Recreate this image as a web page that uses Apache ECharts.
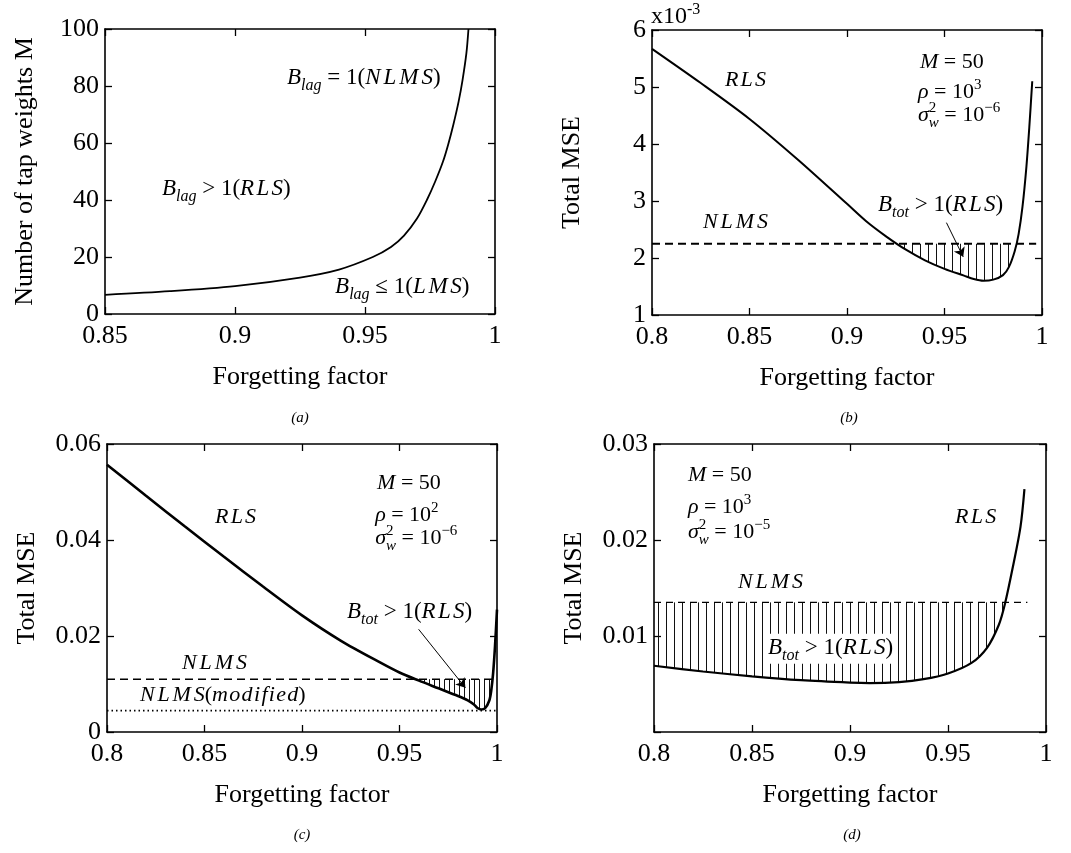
<!DOCTYPE html>
<html><head><meta charset="utf-8">
<script src="https://cdn.jsdelivr.net/npm/echarts@6/dist/echarts.min.js"></script>
<style>html,body{margin:0;padding:0;background:#fff}#c{width:1071px;height:853px}</style>
</head><body><div id="c"></div>
<script>
// ================= DATA =================
// (a) number of tap weights where B_lag = 1
const lambdaA = [0.85, 0.875, 0.90, 0.925, 0.94, 0.953, 0.96, 0.965, 0.97, 0.9738, 0.977, 0.98, 0.982, 0.984, 0.986, 0.9875, 0.989, 0.9898];
const tapsA   = [6.7, 8.0, 9.8, 12.8, 15.6, 20.0, 23.5, 27.5, 33.5, 40.0, 46.5, 53.5, 59.5, 66.5, 74.5, 82.0, 91.5, 100];
const xRangeA = [0.85, 1, 0.05];
const yRangeA = [0, 100, 20];

// (b) total MSE, in units of 1e-3
const lambdaB = [0.80, 0.825, 0.85, 0.875, 0.90, 0.91, 0.92, 0.93, 0.94, 0.95, 0.96, 0.965, 0.97, 0.975, 0.98, 0.983, 0.986, 0.988, 0.99, 0.992, 0.9935, 0.995];
const mseB    = [5.67, 5.07, 4.44, 3.72, 2.95, 2.64, 2.38, 2.15, 1.96, 1.81, 1.69, 1.63, 1.60, 1.62, 1.70, 1.84, 2.12, 2.42, 2.90, 3.60, 4.30, 5.10];
const nlmsB = 2.25;
const nlmsSpanB = [0.8, 0.997];
const arrowB = [[0.951, 2.62], [0.9596, 2.02]];
const xRangeB = [0.8, 1, 0.05];
const yRangeB = [1, 6, 1];

// (c)
const lambdaC = [0.80, 0.82, 0.84, 0.86, 0.88, 0.90, 0.92, 0.94, 0.95, 0.96, 0.97, 0.98, 0.985, 0.988, 0.99, 0.992, 0.994, 0.996, 0.997, 0.998, 0.999, 1.0];
const mseC    = [0.0557, 0.0492, 0.0428, 0.0365, 0.0303, 0.0243, 0.0190, 0.0145, 0.0124, 0.0107, 0.0091, 0.0075, 0.0066, 0.0058, 0.0050, 0.0047, 0.0050, 0.0065, 0.0085, 0.0122, 0.0180, 0.0255];
const nlmsC = 0.011;
const nlmsModC = 0.00446;
const nlmsSpanC = [0.8, 1.0];
const arrowC = [[0.9598, 0.0214], [0.9838, 0.0092]];
const xRangeC = [0.8, 1, 0.05];
const yRangeC = [0, 0.06, 0.02];

// (d)
const lambdaD = [0.80, 0.825, 0.85, 0.875, 0.90, 0.91, 0.925, 0.9375, 0.95, 0.962, 0.97, 0.976, 0.979, 0.983, 0.987, 0.989];
const mseD    = [0.0069, 0.0063, 0.0058, 0.0054, 0.00515, 0.0051, 0.0052, 0.0055, 0.0061, 0.0072, 0.0088, 0.0112, 0.0133, 0.0171, 0.0214, 0.0253];
const nlmsD = 0.0135;
const nlmsSpanD = [0.8, 0.9905];
const xRangeD = [0.8, 1, 0.05];
const yRangeD = [0, 0.03, 0.01];

// ================= CHART =================
const SERIF = '"Liberation Serif", "DejaVu Serif", serif';
const chart = echarts.init(document.getElementById('c'), null, {renderer: 'canvas'});

const grids = [
  {left: 105, top: 29, width: 390, height: 285},
  {left: 652, top: 30, width: 390, height: 285},
  {left: 107, top: 444, width: 390, height: 288},
  {left: 654, top: 444, width: 392, height: 288}
];
const fmt = v => String(+(+v).toFixed(4));
const xAxes = [], yAxes = [];
function addAxes(i, xr, yr, xName, yName, yFmt) {
  const common = {
    type: 'value', gridIndex: i, splitLine: {show: false},
    axisLine: {show: true, onZero: false, lineStyle: {color: '#000', width: 1.6}},
    axisTick: {show: true, inside: true, length: 7, lineStyle: {color: '#000', width: 1.3}}
  };
  const lab = {color: '#000', fontFamily: SERIF, fontSize: 26};
  const nameStyle = {color: '#000', fontFamily: SERIF, fontSize: 26};
  xAxes.push(Object.assign({}, common, {min: xr[0], max: xr[1], interval: xr[2], position: 'bottom',
    axisLabel: Object.assign({show: true, margin: 9, formatter: fmt}, lab),
    name: xName, nameLocation: 'middle', nameGap: 50, nameTextStyle: nameStyle}));
  xAxes.push(Object.assign({}, common, {min: xr[0], max: xr[1], interval: xr[2], position: 'top',
    axisLabel: {show: false}}));
  yAxes.push(Object.assign({}, common, {min: yr[0], max: yr[1], interval: yr[2], position: 'left',
    axisLabel: Object.assign({show: true, margin: 6, formatter: yFmt || fmt}, lab),
    name: yName, nameLocation: 'middle', nameGap: 67, nameRotate: 90, nameTextStyle: nameStyle}));
  yAxes.push(Object.assign({}, common, {min: yr[0], max: yr[1], interval: yr[2], position: 'right',
    axisLabel: {show: false}}));
}
addAxes(0, xRangeA, yRangeA, 'Forgetting factor', 'Number of tap weights M');
addAxes(1, xRangeB, yRangeB, 'Forgetting factor', 'Total MSE');
addAxes(2, xRangeC, yRangeC, 'Forgetting factor', 'Total MSE');
addAxes(3, xRangeD, yRangeD, 'Forgetting factor', 'Total MSE', v => (+v === 0 ? '' : fmt(v)));

const zip = (xs, ys) => xs.map((x, k) => [x, ys[k]]);
function curve(i, xs, ys, w) {
  return {type: 'line', xAxisIndex: 2 * i, yAxisIndex: 2 * i, data: zip(xs, ys), symbol: 'none', showSymbol: false,
    smooth: 0.3, lineStyle: {color: '#000', width: w}, z: 5, silent: true};
}
function level(i, span, val, type, w) {
  return {type: 'line', xAxisIndex: 2 * i, yAxisIndex: 2 * i, data: [[span[0], val], [span[1], val]], symbol: 'none',
    lineStyle: {color: '#000', width: w, type: type}, z: 4, silent: true};
}
function hatch(i, xs, ys, lev, span, step, offset) {
  return {type: 'custom', xAxisIndex: 2 * i, yAxisIndex: 2 * i, silent: true, clip: true, z: 3,
    data: [[(span[0] + span[1]) / 2, lev]],
    renderItem: function (params, api) {
      const pts = xs.map((x, k) => api.coord([x, ys[k]]));
      const p0 = api.coord([span[0], lev]), p1 = api.coord([span[1], lev]);
      const ly = p0[1];
      const children = [];
      let x = p0[0] + offset;
      while (x <= p1[0]) {
        for (let k = 0; k < pts.length - 1; k++) {
          const a = pts[k], b = pts[k + 1];
          if (x >= a[0] && x < b[0]) {
            const t = (x - a[0]) / (b[0] - a[0]);
            const y = a[1] + t * (b[1] - a[1]);
            if (y > ly + 1) {
              const xx = Math.round(x) + 0.5;
              children.push({type: 'line', shape: {x1: xx, y1: ly, x2: xx, y2: y},
                style: {stroke: '#111', lineWidth: 1}});
            }
            break;
          }
        }
        x += step;
      }
      return {type: 'group', children: children};
    }
  };
}
function arrow(i, coords) {
  return {type: 'lines', coordinateSystem: 'cartesian2d', xAxisIndex: 2 * i, yAxisIndex: 2 * i,
    data: [{coords: coords}], symbol: ['none', 'arrow'], symbolSize: 9, silent: true, z: 6,
    lineStyle: {color: '#000', width: 1, opacity: 1, curveness: 0}, itemStyle: {color: '#000'}};
}

const series = [
  curve(0, lambdaA, tapsA, 1.8),
  curve(1, lambdaB, mseB, 2),
  level(1, nlmsSpanB, nlmsB, [8, 5], 2),
  hatch(1, lambdaB, mseB, nlmsB, nlmsSpanB, 8, 4),
  arrow(1, arrowB),
  curve(2, lambdaC, mseC, 2.6),
  level(2, nlmsSpanC, nlmsC, [8, 5], 1.6),
  level(2, nlmsSpanC, nlmsModC, [1.5, 3], 1.6),
  hatch(2, lambdaC, mseC, nlmsC, nlmsSpanC, 5, 2),
  arrow(2, arrowC),
  curve(3, lambdaD, mseD, 2.2),
  level(3, nlmsSpanD, nlmsD, [7, 5], 1.4),
  hatch(3, lambdaD, mseD, nlmsD, nlmsSpanD, 8, 4)
];

chart.setOption({
  animation: false,
  backgroundColor: '#fff',
  grid: grids,
  xAxis: xAxes,
  yAxis: yAxes,
  series: series
});

// ================= MATH TEXT ANNOTATIONS =================
const mctx = document.createElement('canvas').getContext('2d');
const it = (t, ls) => ({t: t, it: true, ls: ls || 0});
const rm = t => ({t: t});
const sub = t => ({t: t, it: true, s: 'sub'});
const sup = (t, stack) => ({t: t, s: 'sup', stack: !!stack});
const NLMS = it('NLMS', 0.13), RLS = it('RLS', 0.1), LMS = it('LMS', 0.12);

function mathEls(pieces, px, py, size, bg) {
  const els = [];
  let cx = px;
  const base = py + 0.32 * size;
  for (const p of pieces) {
    const fs = p.s ? Math.round(size * 0.68) : size;
    const dy = p.s === 'sub' ? 0.26 * size : (p.s === 'sup' ? -0.42 * size : 0);
    const fst = p.it ? 'italic' : 'normal';
    mctx.font = fst + ' ' + fs + 'px ' + SERIF;
    const chars = p.ls ? Array.from(p.t) : [p.t];
    const startX = cx;
    chars.forEach((ch, k) => {
      const w = mctx.measureText(ch).width;
      els.push({type: 'text', x: cx, y: base + dy - 0.32 * fs, silent: true, z: 100,
        style: {text: ch, fill: '#000', fontSize: fs, fontFamily: SERIF, fontStyle: fst, align: 'left', verticalAlign: 'middle'}});
      cx += w + (k < chars.length - 1 ? p.ls * size : 0);
    });
    if (p.stack) cx = startX;
  }
  if (bg) {
    els.unshift({type: 'rect', silent: true, z: 99, shape: {x: px - 3, y: py - 0.62 * size, width: cx - px + 6, height: 1.3 * size},
      style: {fill: '#fff'}});
  }
  return els;
}

const annotations = [
  // grid, x, y (data coords of left edge / vertical centre), size, pieces, white background
  [0, 0.920, 82.8, 23, [it('B'), sub('lag'), rm(' = 1('), NLMS, rm(')')]],
  [0, 0.8719, 43.9, 23, [it('B'), sub('lag'), rm(' > 1('), RLS, rm(')')]],
  [0, 0.9385, 9.5, 23, [it('B'), sub('lag'), rm(' ≤ 1('), LMS, rm(')')]],

  [1, 0.8374, 5.12, 22, [RLS]],
  [1, 0.9374, 5.44, 22, [it('M'), rm(' = 50')]],
  [1, 0.9364, 4.91, 22, [it('ρ'), rm(' = 10'), sup('3')]],
  [1, 0.9364, 4.51, 22, [it('σ'), sup('2', true), sub('w'), rm(' = 10'), sup('−6')]],
  [1, 0.8262, 2.63, 22, [NLMS]],
  [1, 0.9159, 2.93, 23, [it('B'), sub('tot'), rm(' > 1('), RLS, rm(')')]],

  [2, 0.8554, 0.0448, 22, [RLS]],
  [2, 0.9385, 0.0519, 22, [it('M'), rm(' = 50')]],
  [2, 0.9375, 0.0452, 22, [it('ρ'), rm(' = 10'), sup('2')]],
  [2, 0.9375, 0.0404, 22, [it('σ'), sup('2', true), sub('w'), rm(' = 10'), sup('−6')]],
  [2, 0.9231, 0.0250, 23, [it('B'), sub('tot'), rm(' > 1('), RLS, rm(')')]],
  [2, 0.8385, 0.01438, 22, [NLMS]],
  [2, 0.8169, 0.0077, 22, [NLMS, rm('('), it('modified', 0.06), rm(')')]],

  [3, 0.8173, 0.02677, 22, [it('M'), rm(' = 50')]],
  [3, 0.8173, 0.02344, 22, [it('ρ'), rm(' = 10'), sup('3')]],
  [3, 0.8173, 0.02083, 22, [it('σ'), sup('2', true), sub('w'), rm(' = 10'), sup('−5')]],
  [3, 0.9536, 0.0224, 22, [RLS]],
  [3, 0.8429, 0.01563, 22, [NLMS]],
  [3, 0.8582, 0.00875, 23, [it('B'), sub('tot'), rm(' > 1('), RLS, rm(')')], true]
];

let gEls = [];
annotations.forEach(a => {
  const p = chart.convertToPixel({xAxisIndex: 2 * a[0], yAxisIndex: 2 * a[0]}, [a[1], a[2]]);
  gEls = gEls.concat(mathEls(a[4], p[0], p[1], a[3], a[5]));
});
// axis multiplier of panel (b)
const pb = chart.convertToPixel({xAxisIndex: 2, yAxisIndex: 2}, [xRangeB[0], yRangeB[1]]);
gEls = gEls.concat(mathEls([rm('x10'), {t: '-3', s: 'sup'}], pb[0] - 1, pb[1] - 13, 24));

// panel captions
const captions = ['(a)', '(b)', '(c)', '(d)'];
captions.forEach((c, i) => {
  const g = grids[i];
  const cy = i < 2 ? 418 : 835;
  gEls.push({type: 'text', x: g.left + g.width / 2 + (i % 2 === 0 ? 0 : 2), y: cy, silent: true,
    style: {text: c, fill: '#000', fontSize: 15, fontFamily: SERIF, fontStyle: 'italic', align: 'center', verticalAlign: 'middle'}});
});

chart.setOption({graphic: {elements: gEls}});
</script>
</body></html>
